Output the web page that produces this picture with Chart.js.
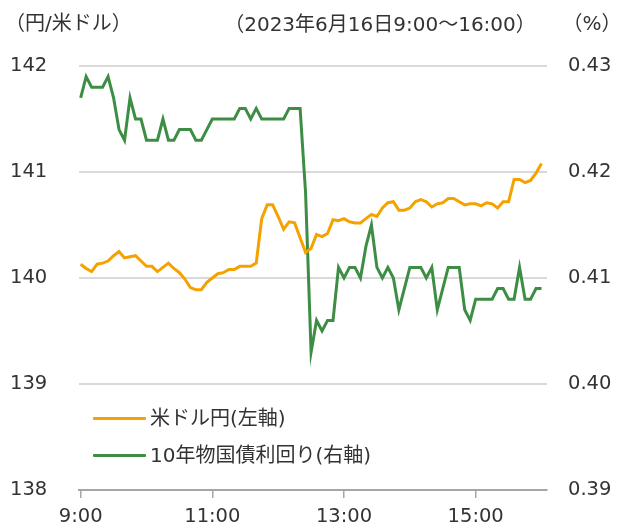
<!DOCTYPE html>
<html lang="ja">
<head>
<meta charset="utf-8">
<script src="https://cdn.jsdelivr.net/npm/chart.js@4/dist/chart.umd.min.js"></script>
<style>
  html, body { margin: 0; padding: 0; background: #ffffff; }
  #wrap { position: relative; width: 617px; height: 530px; overflow: hidden; }
  #c { position: absolute; left: 0; top: 0; }
  .txt { position: absolute; font-family: "DejaVu Sans", "Noto Sans CJK JP", sans-serif; font-size: 20px; color: #333333; white-space: nowrap; line-height: 24px; }
  .sw { position: absolute; height: 3px; border-radius: 1px; }
</style>
</head>
<body>
<div id="wrap">
  <canvas id="c" width="617" height="530"></canvas>
  <div class="txt" id="tl" style="left:5px; top:11px;">（円/米ドル）</div>
  <div class="txt" id="tc" style="left:380px; top:12px; transform:translateX(-50%);">（2023年6月16日9:00～16:00）</div>
  <div class="txt" id="tr" style="left:592px; top:11px; transform:translateX(-50%);">（%）</div>
  <div class="sw" style="left:93px; top:417px; width:53px; background:#F5A200;"></div>
  <div class="txt" style="left:150px; top:406px;">米ドル円(左軸)</div>
  <div class="sw" style="left:93px; top:454px; width:53px; background:#3D8E44;"></div>
  <div class="txt" style="left:150px; top:443px;">10年物国債利回り(右軸)</div>
</div>
<script>
// 5-minute intervals from 9:00 to 16:00 (minutes after 9:00)
const minutes = [];
for (let m = 0; m <= 420; m += 5) minutes.push(m);

// USD/JPY (left axis, yen per dollar)
const usdJpy = [
  140.13, 140.09, 140.06, 140.13, 140.14, 140.16, 140.21, 140.25, 140.19, 140.20,
  140.21, 140.16, 140.11, 140.11, 140.06, 140.10, 140.14, 140.09, 140.05, 139.99,
  139.91, 139.89, 139.89, 139.96, 140.00, 140.04, 140.05, 140.08, 140.08, 140.11,
  140.11, 140.11, 140.14, 140.56, 140.69, 140.69, 140.58, 140.46, 140.53, 140.52,
  140.38, 140.24, 140.28, 140.41, 140.39, 140.42, 140.55, 140.54, 140.56, 140.53,
  140.52, 140.52, 140.56, 140.60, 140.58, 140.66, 140.71, 140.72, 140.64, 140.64,
  140.66, 140.72, 140.74, 140.72, 140.67, 140.70, 140.71, 140.75, 140.75, 140.72,
  140.69, 140.70, 140.70, 140.68, 140.71, 140.70, 140.66, 140.72, 140.72, 140.93,
  140.93, 140.90, 140.92, 140.99, 141.08
];

// 10-year JGB yield (right axis, %)
const jgb10y = [
  0.427, 0.429, 0.428, 0.428, 0.428, 0.429, 0.427, 0.424, 0.423, 0.427,
  0.425, 0.425, 0.423, 0.423, 0.423, 0.425, 0.423, 0.423, 0.424, 0.424,
  0.424, 0.423, 0.423, 0.424, 0.425, 0.425, 0.425, 0.425, 0.425, 0.426,
  0.426, 0.425, 0.426, 0.425, 0.425, 0.425, 0.425, 0.425, 0.426, 0.426,
  0.426, 0.418, 0.403, 0.406, 0.405, 0.406, 0.406, 0.411, 0.410, 0.411,
  0.411, 0.410, 0.413, 0.415, 0.411, 0.410, 0.411, 0.410, 0.407, 0.409,
  0.411, 0.411, 0.411, 0.410, 0.411, 0.407, 0.409, 0.411, 0.411, 0.411,
  0.407, 0.406, 0.408, 0.408, 0.408, 0.408, 0.409, 0.409, 0.408, 0.408,
  0.411, 0.408, 0.408, 0.409, 0.409
];

// X axis tick labels and their times (minutes after 9:00)
const xTickValues = [0, 120, 240, 360];
const xTickLabels = ['9:00', '11:00', '13:00', '15:00'];

// Y axis ticks
const leftTicks = [138, 139, 140, 141, 142];
const rightTicks = [0.39, 0.40, 0.41, 0.42, 0.43];

const seriesNames = ['米ドル円(左軸)', '10年物国債利回り(右軸)'];

const tickFont = { family: "'DejaVu Sans', 'Noto Sans CJK JP', sans-serif", size: 19.5 };

new Chart(document.getElementById('c'), {
  type: 'line',
  data: {
    datasets: [
      {
        label: seriesNames[0],
        data: minutes.map((m, i) => ({ x: m, y: usdJpy[i] })),
        borderColor: '#F5A200',
        backgroundColor: '#F5A200',
        borderWidth: 3,
        pointRadius: 0,
        tension: 0,
        yAxisID: 'yL'
      },
      {
        label: seriesNames[1],
        data: minutes.map((m, i) => ({ x: m, y: jgb10y[i] })),
        borderColor: '#3D8E44',
        backgroundColor: '#3D8E44',
        borderWidth: 3,
        pointRadius: 0,
        tension: 0,
        yAxisID: 'yR'
      }
    ]
  },
  options: {
    responsive: false,
    animation: false,
    layout: { padding: { left: 10, right: 0, top: 66, bottom: 0 } },
    plugins: { legend: { display: false }, tooltip: { enabled: false } },
    scales: {
      x: {
        type: 'linear',
        min: -1.5,
        max: 425,
        afterBuildTicks: s => { s.ticks = xTickValues.map(v => ({ value: v })); },
        afterFit: s => { s.height = 40; },
        ticks: {
          autoSkip: false, maxRotation: 0, minRotation: 0,
          font: tickFont, color: '#333333', padding: 7,
          callback: v => { const k = xTickValues.indexOf(v); return k >= 0 ? xTickLabels[k] : ''; }
        },
        grid: { drawOnChartArea: false, drawTicks: true, tickLength: 8, color: '#a6a6a6', lineWidth: 1.5 },
        border: { display: true, color: '#a6a6a6', width: 2 }
      },
      yL: {
        type: 'linear',
        position: 'left',
        min: 138, max: 142,
        afterBuildTicks: s => { s.ticks = leftTicks.map(v => ({ value: v })); },
        afterFit: s => { s.width = 69; },
        ticks: { font: tickFont, color: '#333333', crossAlign: 'far', padding: 0, callback: v => String(v) },
        grid: { drawTicks: false, color: c => (c.tick && c.tick.value === 138) ? 'rgba(0,0,0,0)' : '#d9d9d9', lineWidth: 2 },
        border: { display: false }
      },
      yR: {
        type: 'linear',
        position: 'right',
        min: 0.39, max: 0.43,
        afterBuildTicks: s => { s.ticks = rightTicks.map(v => ({ value: v })); },
        afterFit: s => { s.width = 70; },
        ticks: { font: tickFont, color: '#333333', padding: 21, callback: v => v.toFixed(2) },
        grid: { drawOnChartArea: false, drawTicks: false },
        border: { display: false }
      }
    }
  }
});
</script>
</body>
</html>
